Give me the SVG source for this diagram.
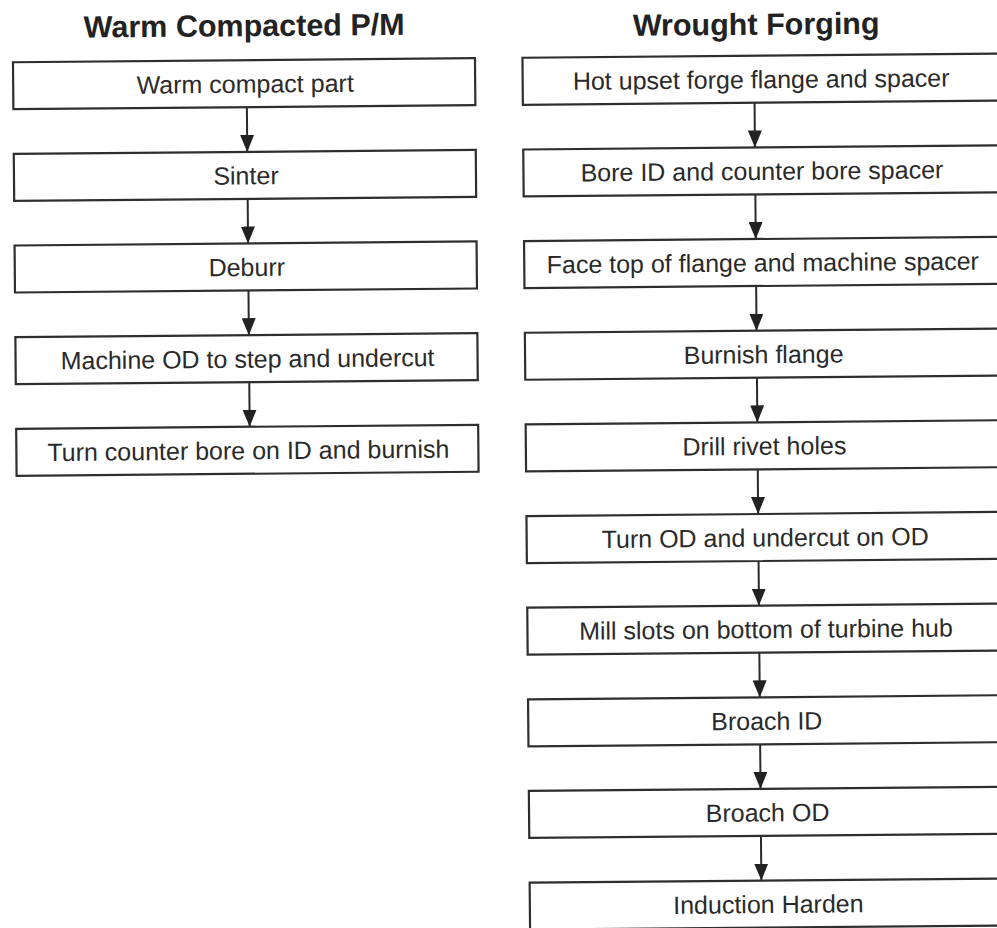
<svg xmlns="http://www.w3.org/2000/svg" width="997" height="928" viewBox="0 0 997 928">
<style>
.box{fill:#fff;stroke:#2e2e2e;stroke-width:2.2}
.t{font-family:"Liberation Sans",Arial,sans-serif;font-size:25px;fill:#2a2a2a;text-anchor:middle}
.h{font-family:"Liberation Sans",Arial,sans-serif;font-size:30.5px;font-weight:bold;fill:#222;text-anchor:middle}
.c{stroke:#2a2a2a;stroke-width:2;fill:none;marker-end:url(#ah)}
</style>
<defs>
<marker id="ah" viewBox="0 0 17 14" refX="17" refY="7" markerWidth="17" markerHeight="14" markerUnits="userSpaceOnUse" orient="auto">
<path d="M0,0 L17,7 L0,14 z" fill="#222"/>
</marker>
</defs>
<rect width="997" height="928" fill="#fff"/>
<g transform="rotate(-0.5 498 464)">
<text id="title-left" class="h" x="248" y="34">Warm Compacted P/M</text>
<text id="title-right" class="h" x="760" y="37">Wrought Forging</text>
<g id="connectors">
<line class="c" x1="250" y1="105" x2="250" y2="149.7"/>
<line class="c" x1="250" y1="196.7" x2="250" y2="241.3"/>
<line class="c" x1="250" y1="288.3" x2="250" y2="333"/>
<line class="c" x1="250" y1="380" x2="250" y2="424.6"/>
<line class="c" x1="757.7" y1="105" x2="757.7" y2="149.7"/>
<line class="c" x1="757.7" y1="196.7" x2="757.7" y2="241.3"/>
<line class="c" x1="757.7" y1="288.3" x2="757.7" y2="333"/>
<line class="c" x1="757.7" y1="380" x2="757.7" y2="424.6"/>
<line class="c" x1="757.7" y1="471.6" x2="757.7" y2="516.3"/>
<line class="c" x1="757.7" y1="563.3" x2="757.7" y2="607.9"/>
<line class="c" x1="757.7" y1="654.9" x2="757.7" y2="699.6"/>
<line class="c" x1="757.7" y1="746.6" x2="757.7" y2="791.2"/>
<line class="c" x1="757.7" y1="838.2" x2="757.7" y2="882.9"/>
</g>
<g id="L1"><rect class="box" x="16.5" y="58" width="462" height="47"/><text class="t" x="248.5" y="90.5">Warm compact part</text></g>
<g id="L2"><rect class="box" x="16.5" y="149.7" width="462" height="47"/><text class="t" x="248.5" y="182.2">Sinter</text></g>
<g id="L3"><rect class="box" x="16.5" y="241.3" width="462" height="47"/><text class="t" x="248.5" y="273.8">Deburr</text></g>
<g id="L4"><rect class="box" x="16.5" y="333" width="462" height="47"/><text class="t" x="248.5" y="365.5">Machine OD to step and undercut</text></g>
<g id="L5"><rect class="box" x="16.5" y="424.6" width="462" height="47"/><text class="t" x="248.5" y="457.1">Turn counter bore on ID and burnish</text></g>
<g id="R1"><rect class="box" x="526" y="58" width="490" height="47"/><text class="t" x="764.5" y="90.5">Hot upset forge flange and spacer</text></g>
<g id="R2"><rect class="box" x="526" y="149.7" width="490" height="47"/><text class="t" x="764.5" y="182.2">Bore ID and counter bore spacer</text></g>
<g id="R3"><rect class="box" x="526" y="241.3" width="490" height="47"/><text class="t" x="764.5" y="273.8">Face top of flange and machine spacer</text></g>
<g id="R4"><rect class="box" x="526" y="333" width="490" height="47"/><text class="t" x="764.5" y="365.5">Burnish flange</text></g>
<g id="R5"><rect class="box" x="526" y="424.6" width="490" height="47"/><text class="t" x="764.5" y="457.1">Drill rivet holes</text></g>
<g id="R6"><rect class="box" x="526" y="516.3" width="490" height="47"/><text class="t" x="764.5" y="548.8">Turn OD and undercut on OD</text></g>
<g id="R7"><rect class="box" x="526" y="607.9" width="490" height="47"/><text class="t" x="764.5" y="640.4">Mill slots on bottom of turbine hub</text></g>
<g id="R8"><rect class="box" x="526" y="699.6" width="490" height="47"/><text class="t" x="764.5" y="732.1">Broach ID</text></g>
<g id="R9"><rect class="box" x="526" y="791.2" width="490" height="47"/><text class="t" x="764.5" y="823.7">Broach OD</text></g>
<g id="R10"><rect class="box" x="526" y="882.9" width="490" height="47"/><text class="t" x="764.5" y="915.4">Induction Harden</text></g>
</g>
</svg>
